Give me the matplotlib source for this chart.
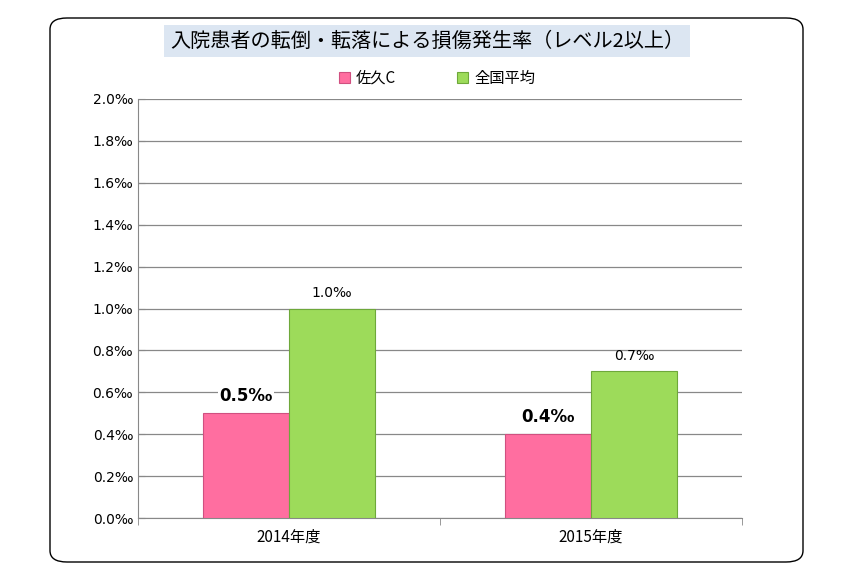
import matplotlib.pyplot as plt
from matplotlib.patches import FancyBboxPatch
import numpy as np

plt.rcParams['font.family'] = ['Noto Sans CJK JP']

categories = ['2014年度', '2015年度']
saku = [0.5, 0.4]
national = [1.0, 0.7]
series_names = ['佐久C', '全国平均']
yticks = [0.0, 0.2, 0.4, 0.6, 0.8, 1.0, 1.2, 1.4, 1.6, 1.8, 2.0]
title = '入院患者の転倒・転落による損傷発生率（レベル2以上）'

fig = plt.figure(figsize=(8.53, 5.65), dpi=100)
# outer rounded frame
fig.patches.append(FancyBboxPatch((50/853, 3/565), 753/853, 544/565,
                                  boxstyle='round,pad=0,rounding_size=0.02',
                                  transform=fig.transFigure, fill=False,
                                  ec='black', lw=1))
ax = fig.add_axes([138/853, 47/565, 604/853, 419/565])

x = np.arange(len(categories))
w = 0.285
b1 = ax.bar(x - w/2, saku, w, color='#ff6ea0', edgecolor='#d05080', lw=0.8, label=series_names[0], zorder=3)
b2 = ax.bar(x + w/2, national, w, color='#9ddb5a', edgecolor='#6ea83a', lw=0.8, label=series_names[1], zorder=3)

for r, v in zip(b1, saku):
    ax.text(r.get_x() + r.get_width()/2, v + 0.04, f'{v:.1f}‰', ha='center', va='bottom',
            fontsize=12, fontweight='bold', fontfamily='DejaVu Sans',
            bbox=dict(fc='white', ec='none', pad=1), zorder=4)
for r, v in zip(b2, national):
    ax.text(r.get_x() + r.get_width()/2, v + 0.04, f'{v:.1f}‰', ha='center', va='bottom',
            fontsize=10, fontfamily='DejaVu Sans', zorder=4)

ax.set_xlim(-0.5, 1.5)
ax.set_ylim(0, 2.0)
ax.set_yticks(yticks)
ax.set_yticklabels([f'{t:.1f}‰' for t in yticks], fontfamily='DejaVu Sans', fontsize=10)
ax.set_xticks(x)
ax.set_xticklabels(categories, fontsize=11)
ax.set_xticks([-0.5, 0.5, 1.5], minor=True)
ax.tick_params(axis='x', which='major', length=0, pad=8)
ax.tick_params(axis='x', which='minor', length=5, color='#888888')
ax.tick_params(axis='y', length=5, color='#888888', direction='in')
ax.grid(axis='y', color='#888888', lw=0.9, zorder=0)
for s in ['top', 'right']:
    ax.spines[s].set_visible(False)
for s in ['left', 'bottom']:
    ax.spines[s].set_color('#888888')

fig.text(427/853, 1 - 41/565, title, ha='center', va='center', fontsize=14.5,
         bbox=dict(fc='#dce6f2', ec='none', pad=4))
fig.legend(loc='center', bbox_to_anchor=(437/853, 1 - 78/565), ncol=2, frameon=False,
           fontsize=11, handlelength=0.7, handleheight=0.7, columnspacing=4, handletextpad=0.4)

fig.savefig('out.png', dpi=100)
